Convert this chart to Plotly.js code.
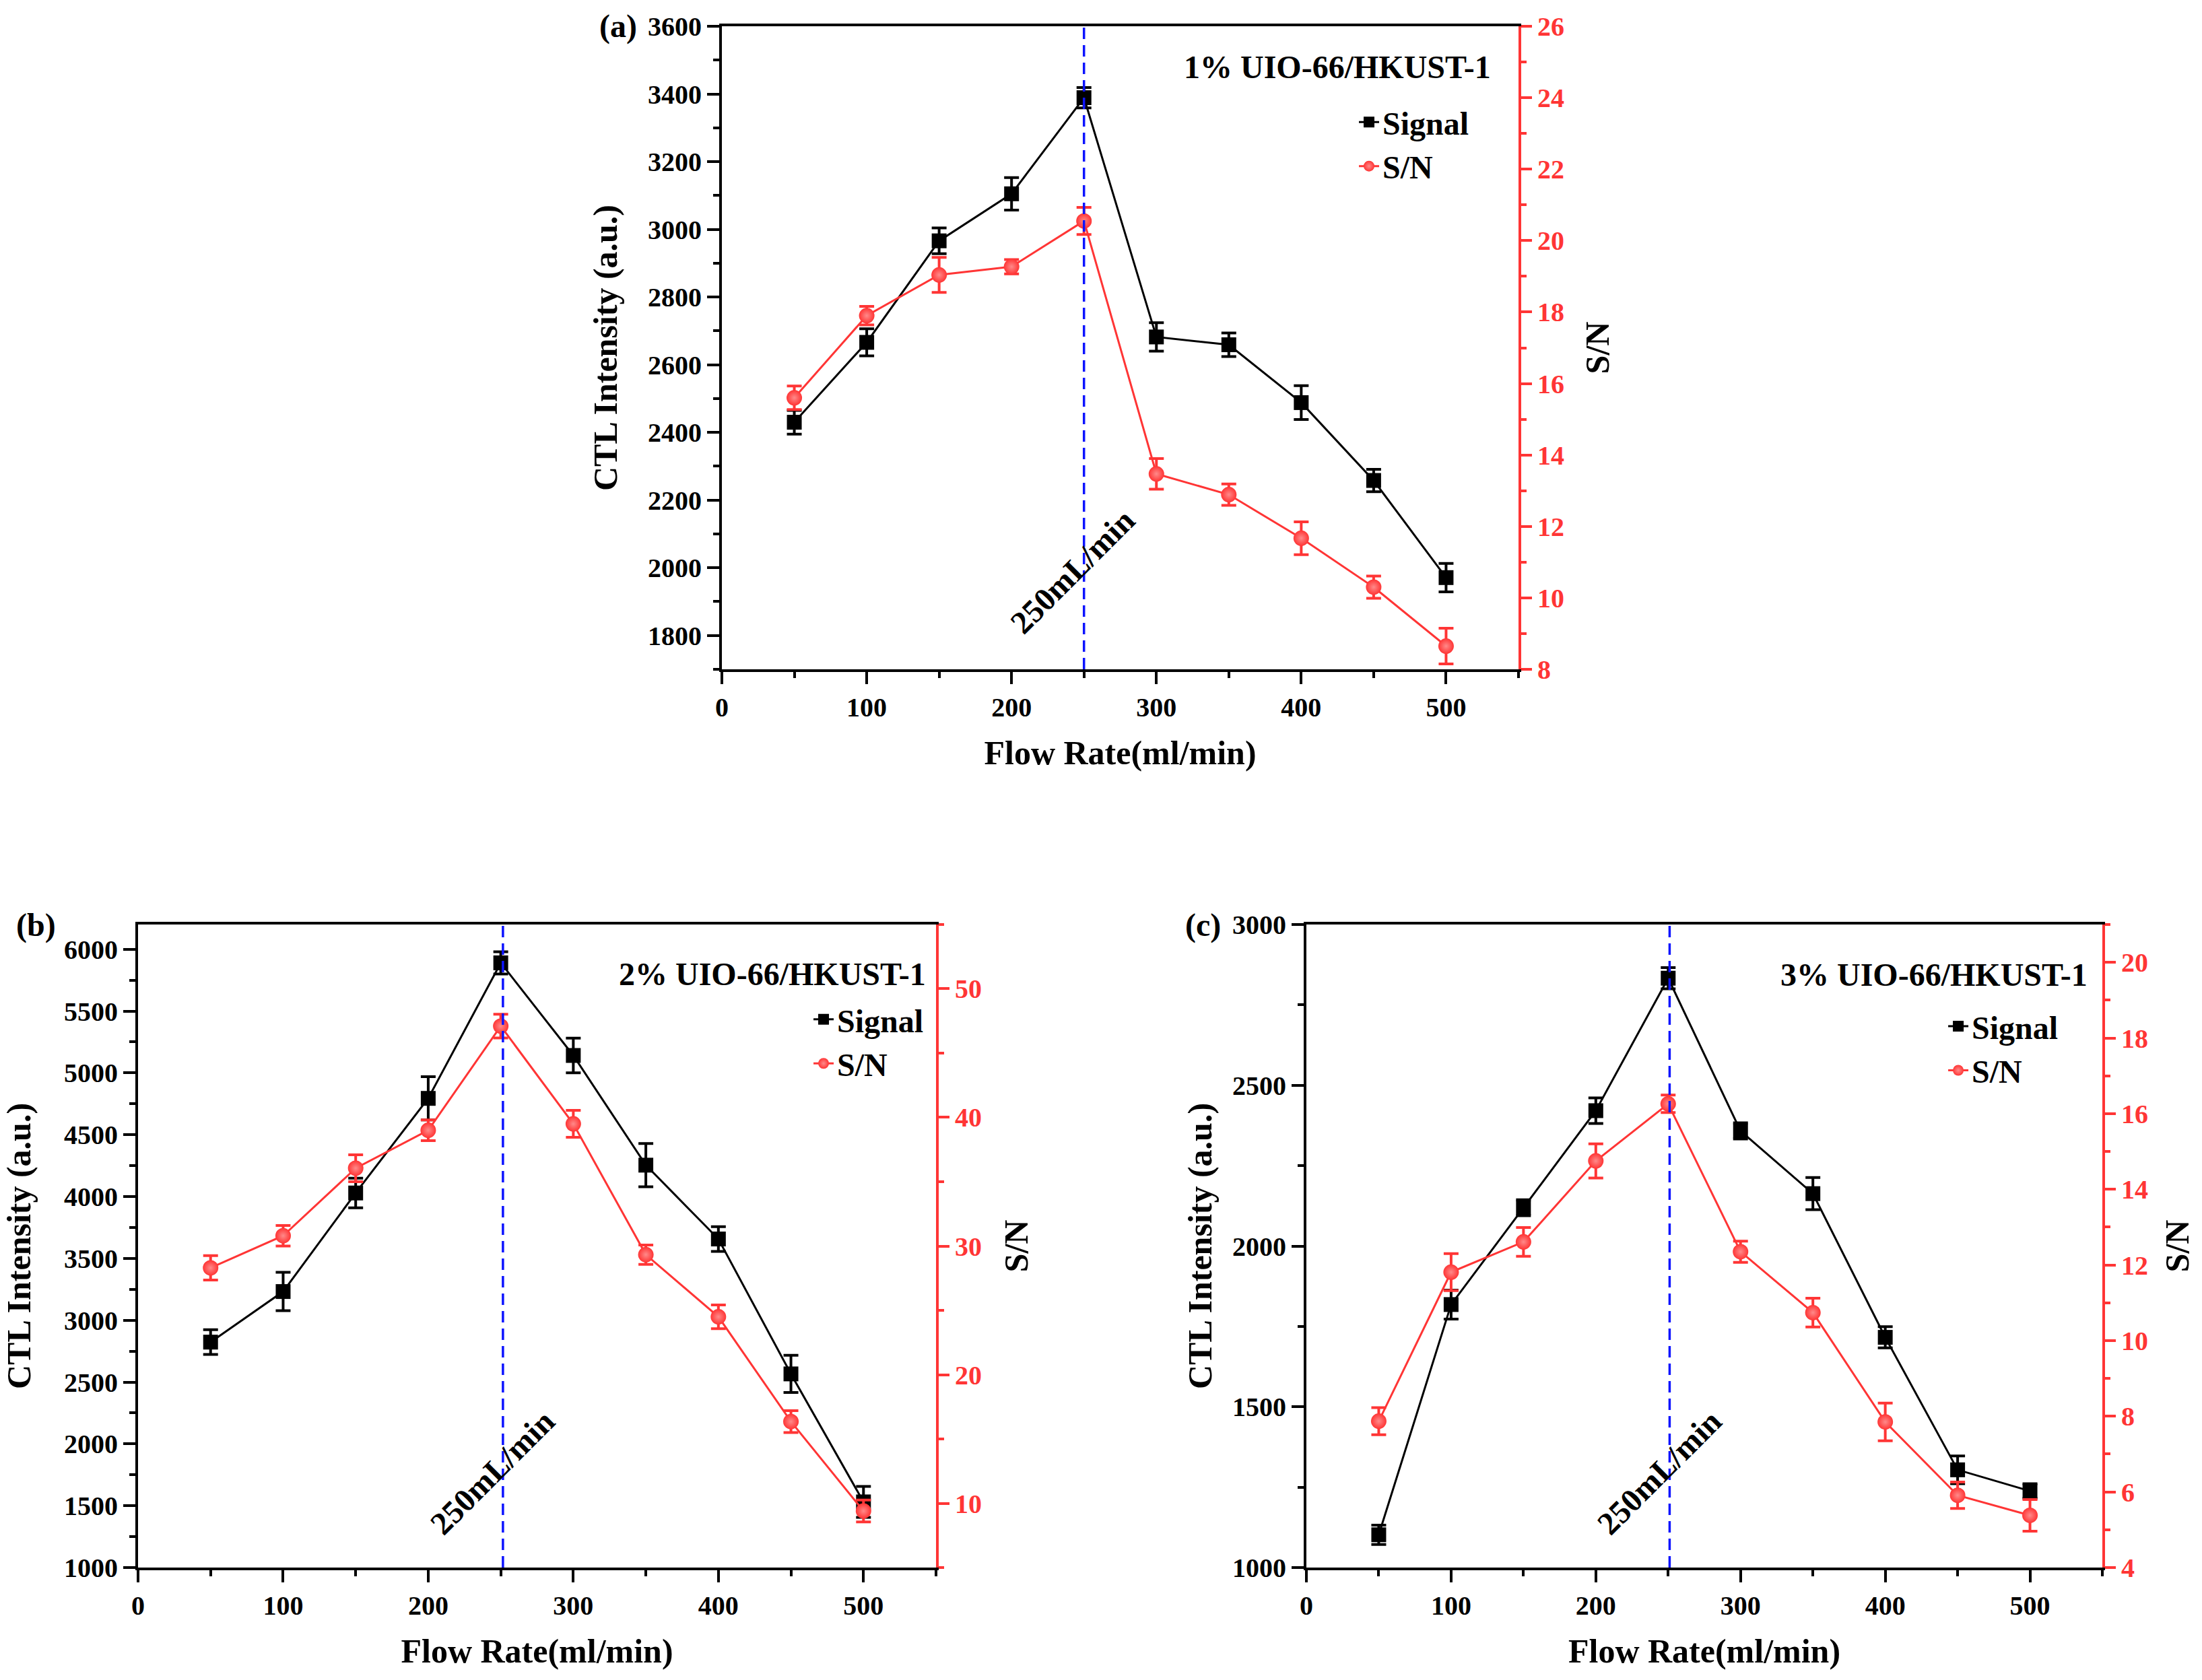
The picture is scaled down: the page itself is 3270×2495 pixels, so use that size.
<!DOCTYPE html>
<html>
<head>
<meta charset="utf-8">
<script src="https://cdn.plot.ly/plotly-3.0.1.min.js"></script>
<style>
  html, body { margin: 0; padding: 0; background: #fff; }
  #plot { width: 3270px; height: 2495px; }
</style>
</head>
<body>
<div id="plot"></div>
<script>
// flow rates (ml/min)
var flowRate = [50, 100, 150, 200, 250, 300, 350, 400, 450, 500];

// (a) 1% UIO-66/HKUST-1
var sigA = [2430, 2666, 2966, 3105, 3389, 2682, 2659, 2488, 2258, 1971];
var sigAErr = [35, 40, 38, 48, 30, 42, 35, 50, 33, 42];
var snA = [15.6, 17.9, 19.04, 19.27, 20.55, 13.47, 12.89, 11.67, 10.3, 8.65];
var snAErr = [0.33, 0.26, 0.49, 0.2, 0.38, 0.43, 0.3, 0.46, 0.31, 0.5];

// (b) 2% UIO-66/HKUST-1
var sigB = [2823, 3232, 4029, 4794, 5890, 5141, 4254, 3657, 2566, 1531];
var sigBErr = [100, 155, 120, 175, 90, 140, 175, 100, 150, 125];
var snB = [28.3, 30.8, 36.05, 39.0, 47.1, 39.5, 29.33, 24.5, 16.35, 9.4];
var snBErr = [0.95, 0.8, 1.05, 0.8, 0.92, 1.05, 0.75, 0.92, 0.85, 0.85];

// (c) 3% UIO-66/HKUST-1
var sigC = [1102, 1818, 2119, 2421, 2833, 2358, 2163, 1716, 1304, 1238];
var sigCErr = [30, 45, 25, 40, 33, 25, 50, 33, 43, 23];
var snC = [7.87, 11.81, 12.61, 14.75, 16.26, 12.35, 10.74, 7.85, 5.91, 5.38];
var snCErr = [0.36, 0.49, 0.38, 0.45, 0.23, 0.28, 0.38, 0.5, 0.35, 0.42];

// optimum flow marked by the dashed line, per panel
var optFlow = [250, 251.5, 251];
var panelLabels = ['(a)', '(b)', '(c)'];
var panelNames = ['1% UIO-66/HKUST-1', '2% UIO-66/HKUST-1', '3% UIO-66/HKUST-1'];

var RED = '#ff3535';
var BLUE = '#0d14ff';
var FONT = 'Liberation Serif, Times New Roman, serif';

function signalTrace(y, err, xa, ya, leg) {
  return {
    x: flowRate, y: y, xaxis: xa, yaxis: ya, legend: leg,
    name: 'Signal', type: 'scatter', mode: 'lines+markers',
    line: {color: 'black', width: 3},
    marker: {symbol: 'square', size: 22, color: 'black'},
    error_y: {type: 'data', array: err, visible: true, color: 'black', thickness: 4, width: 11}
  };
}

function snTrace(y, err, xa, ya, leg) {
  return {
    x: flowRate, y: y, xaxis: xa, yaxis: ya, legend: leg,
    name: 'S/N', type: 'scatter', mode: 'lines+markers',
    line: {color: RED, width: 3},
    marker: {symbol: 'circle', size: 23, color: RED,
      gradient: {type: 'radial', color: '#ff8a8a'}, line: {width: 0}},
    error_y: {type: 'data', array: err, visible: true, color: RED, thickness: 4, width: 11}
  };
}

var data = [
  signalTrace(sigA, sigAErr, 'x', 'y', 'legend'),
  snTrace(snA, snAErr, 'x', 'y2', 'legend'),
  signalTrace(sigB, sigBErr, 'x2', 'y3', 'legend2'),
  snTrace(snB, snBErr, 'x2', 'y4', 'legend2'),
  signalTrace(sigC, sigCErr, 'x3', 'y5', 'legend3'),
  snTrace(snC, snCErr, 'x3', 'y6', 'legend3')
];

var tickFont = {family: FONT, size: 40, color: 'black', weight: 700};
var redTickFont = {family: FONT, size: 40, color: RED, weight: 700};
var titleFont = {family: FONT, size: 50, color: 'black', weight: 700};
var legFont = {family: FONT, size: 48, color: 'black', weight: 700};

function xAxis(dom, anchor) {
  return {
    domain: dom, anchor: anchor, range: [0, 550], dtick: 100, tick0: 0,
    showline: true, linewidth: 4, linecolor: 'black', mirror: true,
    ticks: 'outside', ticklen: 18, tickwidth: 4, tickcolor: 'black',
    minor: {dtick: 50, ticks: 'outside', ticklen: 9, tickwidth: 4, tickcolor: 'black'},
    showgrid: false, zeroline: false, tickfont: tickFont,
    title: {text: 'Flow Rate(ml/min)', font: titleFont, standoff: 29}
  };
}

function yLeft(dom, anchor, range, dtick, mdtick, standoff) {
  return {
    domain: dom, anchor: anchor, range: range, dtick: dtick, tick0: 0,
    showline: true, linewidth: 4, linecolor: 'black',
    ticks: 'outside', ticklen: 18, tickwidth: 4, tickcolor: 'black',
    minor: {dtick: mdtick, ticks: 'outside', ticklen: 9, tickwidth: 4, tickcolor: 'black'},
    showgrid: false, zeroline: false, tickfont: tickFont,
    title: {text: 'CTL Intensity (a.u.)', font: titleFont, standoff: standoff}
  };
}

function yRight(over, anchor, range, dtick, mdtick, standoff) {
  return {
    overlaying: over, anchor: anchor, side: 'right', range: range, dtick: dtick, tick0: 0,
    showline: true, linewidth: 4, linecolor: RED,
    ticks: 'outside', ticklen: 16, tickwidth: 4, tickcolor: RED,
    minor: {dtick: mdtick, ticks: 'outside', ticklen: 8, tickwidth: 4, tickcolor: RED},
    showgrid: false, zeroline: false, tickfont: redTickFont,
    title: {text: 'S/N', font: titleFont, standoff: standoff}
  };
}

var domAx = [0.32783, 0.68960], domAy = [0.60160, 0.98437];
var domBx = [0.06269, 0.42508], domCx = [0.59327, 0.95474], domBy = [0.06693, 0.44970];

function legendAt(x, y) {
  return {x: x, y: y, xanchor: 'left', yanchor: 'middle', bgcolor: 'rgba(0,0,0,0)',
    borderwidth: 0, font: legFont, tracegroupgap: 0};
}

var shapes = [['x', 'y domain', 0], ['x2', 'y3 domain', 1], ['x3', 'y5 domain', 2]].map(function (s) {
  return {type: 'line', xref: s[0], yref: s[1], x0: optFlow[s[2]], x1: optFlow[s[2]], y0: 0, y1: 1,
    line: {color: BLUE, width: 3.5, dash: '17px,9px'}};
});

function ann(text, xref, yref, x, y, xanchor, yanchor, extra) {
  var a = {text: text, xref: xref, yref: yref, x: x, y: y, xanchor: xanchor, yanchor: yanchor,
    showarrow: false, font: {family: FONT, size: 48, color: 'black', weight: 700}};
  for (var k in extra) a[k] = extra[k];
  return a;
}

var annotations = [
  ann(panelLabels[0], 'paper', 'paper', 0.28991, 0.98437, 'right', 'middle'),
  ann(panelLabels[1], 'paper', 'paper', 0.00673, 0.44930, 'left', 'middle'),
  ann(panelLabels[2], 'paper', 'paper', 0.53761, 0.44930, 'left', 'middle'),
  ann(panelNames[0], 'paper', 'paper', 0.67768, 0.96032, 'right', 'middle'),
  ann(panelNames[1], 'paper', 'paper', 0.42110, 0.42044, 'right', 'middle'),
  ann(panelNames[2], 'paper', 'paper', 0.94862, 0.41964, 'right', 'middle'),
  ann('250mL/min', 'x', 'y', 242, 1989, 'center', 'middle', {textangle: -45}),
  ann('250mL/min', 'x2', 'y3', 244, 1773, 'center', 'middle', {textangle: -45}),
  ann('250mL/min', 'x3', 'y5', 243.7, 1297, 'center', 'middle', {textangle: -45})
];

var layout = {
  width: 3270, height: 2495,
  margin: {l: 0, r: 0, t: 0, b: 0},
  paper_bgcolor: 'white', plot_bgcolor: 'white',
  font: {family: FONT, size: 40, color: 'black'},
  xaxis: xAxis(domAx, 'y'),
  yaxis: yLeft(domAy, 'x', [1700, 3600], 200, 100, 31),
  yaxis2: yRight('y', 'x', [8, 26], 2, 1, 33),
  xaxis2: xAxis(domBx, 'y3'),
  yaxis3: yLeft(domBy, 'x2', [1000, 6200], 500, 250, 37),
  yaxis4: yRight('y3', 'x2', [5, 55], 10, 5, 35),
  xaxis3: xAxis(domCx, 'y5'),
  yaxis5: yLeft(domBy, 'x3', [1000, 3000], 500, 250, 15),
  yaxis6: yRight('y5', 'x3', [4, 21], 2, 1, 27),
  legend: legendAt(0.6156, 0.9142),
  legend2: legendAt(0.3679, 0.3801),
  legend3: legendAt(0.8832, 0.3760),
  shapes: shapes,
  annotations: annotations
};

Plotly.newPlot('plot', data, layout, {staticPlot: true});
</script>
</body>
</html>
